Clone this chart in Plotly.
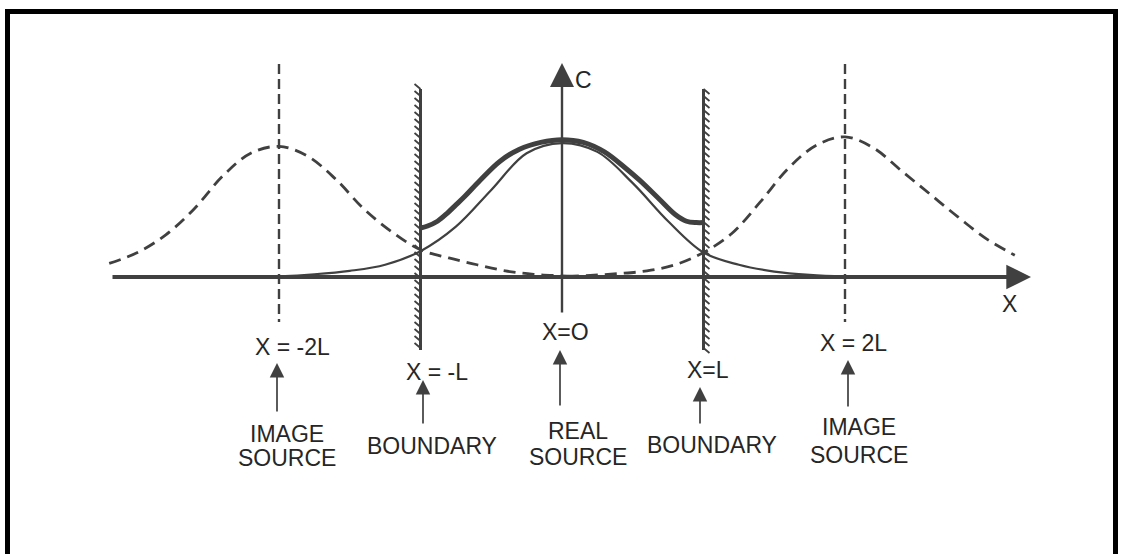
import plotly.graph_objects as go

# ---------------- data (x in units of L, concentration C relative) ----------------
thin_x = [-2.2, -2.0, -1.75, -1.5, -1.25, -1.0, -0.75, -0.5, -0.25, 0.0, 0.25, 0.5, 0.75, 1.0, 1.25, 1.5, 1.75, 2.0, 2.2]
thin_c = [0.0, 0.005, 0.02, 0.045, 0.09, 0.19, 0.37, 0.64, 0.91, 0.985, 0.92, 0.69, 0.41, 0.18, 0.09, 0.04, 0.015, 0.003, 0.0]

thick_x = [-1.0, -0.95, -0.88, -0.81, -0.75, -0.69, -0.58, -0.44, -0.3, -0.15, 0.0, 0.15, 0.3, 0.45, 0.55, 0.69, 0.8, 0.88, 0.95, 1.0]
thick_c = [0.36, 0.375, 0.41, 0.47, 0.53, 0.59, 0.71, 0.85, 0.94, 0.99, 1.01, 0.99, 0.92, 0.80, 0.71, 0.57, 0.46, 0.41, 0.40, 0.40]

img_left_x = [-3.2, -3.0, -2.8, -2.6, -2.4, -2.2, -2.0, -1.8, -1.6, -1.4, -1.2, -1.0, -0.8, -0.6, -0.4, -0.2, 0.0, 0.15]
img_left_c = [0.10, 0.18, 0.31, 0.50, 0.74, 0.91, 0.96, 0.89, 0.72, 0.50, 0.33, 0.20, 0.14, 0.09, 0.045, 0.02, 0.008, 0.0]

img_right_x = [-0.1, 0.0, 0.2, 0.4, 0.6, 0.8, 1.0, 1.2, 1.4, 1.6, 1.8, 2.0, 2.2, 2.4, 2.6, 2.8, 3.0, 3.2]
img_right_c = [0.0, 0.003, 0.012, 0.025, 0.045, 0.09, 0.18, 0.32, 0.55, 0.80, 0.97, 1.03, 0.95, 0.78, 0.61, 0.44, 0.28, 0.16]

boundary_x = [-1.0, 1.0]
boundary_side = [-1, 1]          # hatch side (outside of the domain)
image_source_x = [-2.0, 2.0]

position_labels = ["X = -2L", "X = -L", "X=O", "X=L", "X = 2L"]
role_labels = [["IMAGE", "SOURCE"], ["BOUNDARY"], ["REAL", "SOURCE"], ["BOUNDARY"], ["IMAGE", "SOURCE"]]

# ---------------- geometry helpers ----------------
W, H = 1125, 554
X0, LPX = 562.0, 141.5      # pixel of x=0, pixels per L
Y0, CPX = 277.0, 136.0      # pixel of C=0, pixels per unit C


def dx(px):
    return px / LPX


def dy(px):
    return px / CPX


def yv(py):  # pixel row -> data value
    return (Y0 - py) / CPX


def xv(px):  # pixel column -> data value
    return (px - X0) / LPX


INK = "#404040"
fig = go.Figure()

# curves
fig.add_trace(go.Scatter(x=img_left_x, y=img_left_c, mode="lines",
                         line=dict(color=INK, width=2.8, dash="12px,7px", shape="spline", smoothing=1.0)))
fig.add_trace(go.Scatter(x=img_right_x, y=img_right_c, mode="lines",
                         line=dict(color=INK, width=2.8, dash="12px,7px", shape="spline", smoothing=1.0)))
fig.add_trace(go.Scatter(x=thin_x, y=thin_c, mode="lines",
                         line=dict(color=INK, width=2.2, shape="spline", smoothing=1.0)))
fig.add_trace(go.Scatter(x=thick_x, y=thick_c, mode="lines",
                         line=dict(color=INK, width=5.0, shape="spline", smoothing=1.0)))

# dashed verticals through image sources
for xs in image_source_x:
    fig.add_trace(go.Scatter(x=[xs, xs], y=[yv(64), yv(322)], mode="lines",
                             line=dict(color=INK, width=2.4, dash="10px,5px")))

# boundaries with hatching
for bx, side in zip(boundary_x, boundary_side):
    top, bot = yv(89), yv(350)
    fig.add_trace(go.Scatter(x=[bx, bx], y=[top, bot], mode="lines",
                             line=dict(color=INK, width=3.0)))
    hx, hy = [], []
    n = int((top - bot) / dy(7))
    for i in range(n + 1):
        yy = top - i * dy(7)
        hx += [bx, bx + side * dx(6), None]
        hy += [yy, yy - dy(5) * side, None]
    fig.add_trace(go.Scatter(x=hx, y=hy, mode="lines", line=dict(color=INK, width=1.8)))

ann = []
# x axis with arrow
ann.append(dict(x=xv(1031), y=0, ax=xv(111), ay=0, xref="x", yref="y", axref="x", ayref="y",
                showarrow=True, arrowhead=2, arrowsize=1.3, arrowwidth=3.8, arrowcolor=INK, text=""))
# C axis with arrow
ann.append(dict(x=0, y=yv(63), ax=0, ay=yv(314), xref="x", yref="y", axref="x", ayref="y",
                showarrow=True, arrowhead=2, arrowsize=2.0, arrowwidth=2.4, arrowcolor=INK, text=""))

FONT = dict(family="Liberation Sans, Arial, sans-serif", size=23, color="#262626")
ann.append(dict(x=xv(583), y=yv(80), text="C", showarrow=False, font=FONT, xref="x", yref="y"))
ann.append(dict(x=xv(1009), y=yv(304), text="X", showarrow=False, font=FONT, xref="x", yref="y"))

# position labels, pointer arrows, role labels (pixel placements)
pos_label_px = [(292, 347), (437, 372), (565, 332), (708, 370), (853, 343)]
arrow_px = [(277, 363, 413), (423, 380, 425), (560, 350, 407), (700, 387, 425), (848, 360, 408)]
role_px = [(287, [434, 458]), (432, [446]), (578, [431, 457]), (712, [445]), (859, [427, 455])]

for i, lab in enumerate(position_labels):
    lx, ly = pos_label_px[i]
    ann.append(dict(x=xv(lx), y=yv(ly), text=lab, showarrow=False, font=FONT, xref="x", yref="y"))
    axp, tip, tail = arrow_px[i]
    ann.append(dict(x=xv(axp), y=yv(tip), ax=xv(axp), ay=yv(tail), xref="x", yref="y",
                    axref="x", ayref="y", showarrow=True, arrowhead=2, arrowsize=1.7, arrowwidth=1.7,
                    arrowcolor=INK, text=""))
    rx, rys = role_px[i]
    for word, ry in zip(role_labels[i], rys):
        ann.append(dict(x=xv(rx), y=yv(ry), text=word, showarrow=False, font=FONT, xref="x", yref="y"))

# frame
shapes = [
    dict(type="rect", xref="paper", yref="paper", x0=5 / W, x1=1118 / W, y0=1 - 14 / H, y1=1 - 9 / H,
         fillcolor="black", line=dict(width=0)),
    dict(type="rect", xref="paper", yref="paper", x0=5 / W, x1=10 / W, y0=0, y1=1 - 9 / H,
         fillcolor="black", line=dict(width=0)),
    dict(type="rect", xref="paper", yref="paper", x0=1113 / W, x1=1118 / W, y0=0, y1=1 - 9 / H,
         fillcolor="black", line=dict(width=0)),
]

fig.update_layout(
    width=W, height=H, margin=dict(l=0, r=0, t=0, b=0),
    paper_bgcolor="white", plot_bgcolor="white", showlegend=False,
    xaxis=dict(range=[xv(0), xv(W)], visible=False, fixedrange=True),
    yaxis=dict(range=[yv(H), yv(0)], visible=False, fixedrange=True),
    annotations=ann, shapes=shapes,
)

fig.write_html("out.html", config={"displayModeBar": False},
               post_script="document.body.style.margin='0';")
